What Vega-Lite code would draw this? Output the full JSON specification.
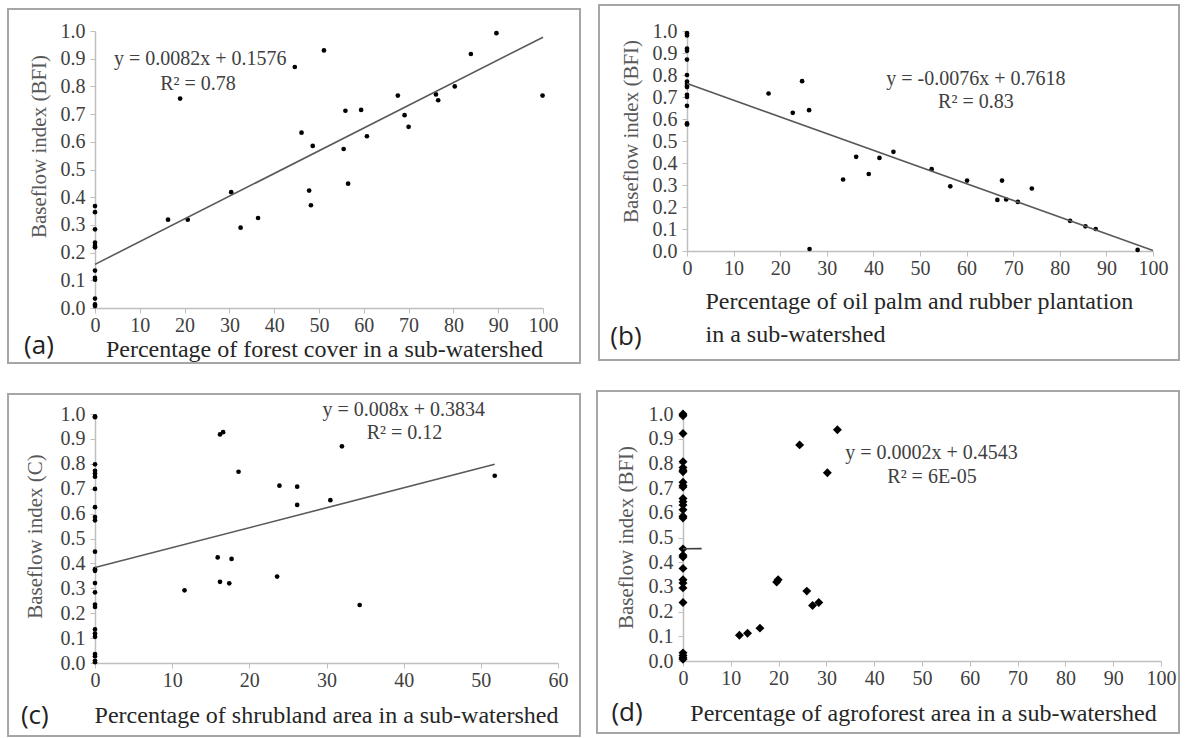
{
  "$schema": "https://vega.github.io/schema/vega-lite/v6.json",
  "background": "white",
  "padding": {"left": 6, "top": 4, "right": 0, "bottom": 0},
  "config": {
    "view": {"stroke": null},
    "font": "Liberation Serif",
    "style": {"guide-label": {"font": "Liberation Serif", "fontWeight": "normal"}, "guide-title": {"font": "Liberation Serif"}},
    "axis": {
      "labelFont": "Liberation Serif", "labelFontSize": 20, "labelColor": "#404040", "labelFontWeight": "normal",
      "labelOverlap": false, "labelFlush": false, "labelBound": false,
      "titleFont": "Liberation Serif", "titleFontWeight": "normal", "titleColor": "#262626",
      "domainColor": "#bfbfbf", "domainWidth": 1.5, "tickColor": "#bfbfbf", "tickSize": 5, "grid": false
    },
    "axisX": {"labelFont": "Liberation Serif"},
    "axisY": {"labelFont": "Liberation Serif"}
  },
  "datasets": {
    "one": [{}],
    "a": [
      {"pct": 0, "bfi": 0.368}, {"pct": 0, "bfi": 0.346}, {"pct": 0, "bfi": 0.284}, {"pct": 0, "bfi": 0.236},
      {"pct": 0, "bfi": 0.224}, {"pct": 0, "bfi": 0.219}, {"pct": 0, "bfi": 0.135}, {"pct": 0, "bfi": 0.109},
      {"pct": 0, "bfi": 0.102}, {"pct": 0, "bfi": 0.034}, {"pct": 0, "bfi": 0.013}, {"pct": 0, "bfi": 0.007},
      {"pct": 16.3, "bfi": 0.319}, {"pct": 19.0, "bfi": 0.756}, {"pct": 20.7, "bfi": 0.319}, {"pct": 30.4, "bfi": 0.418},
      {"pct": 32.5, "bfi": 0.29}, {"pct": 36.4, "bfi": 0.325}, {"pct": 44.6, "bfi": 0.87}, {"pct": 46.1, "bfi": 0.633},
      {"pct": 48.6, "bfi": 0.585}, {"pct": 47.8, "bfi": 0.424}, {"pct": 48.2, "bfi": 0.371}, {"pct": 51.1, "bfi": 0.93},
      {"pct": 55.5, "bfi": 0.574}, {"pct": 55.9, "bfi": 0.712}, {"pct": 56.5, "bfi": 0.449}, {"pct": 59.4, "bfi": 0.715},
      {"pct": 60.7, "bfi": 0.62}, {"pct": 67.6, "bfi": 0.767}, {"pct": 69.1, "bfi": 0.696}, {"pct": 70.0, "bfi": 0.654},
      {"pct": 76.1, "bfi": 0.771}, {"pct": 76.6, "bfi": 0.75}, {"pct": 80.3, "bfi": 0.8}, {"pct": 83.9, "bfi": 0.917},
      {"pct": 89.6, "bfi": 0.992}, {"pct": 99.9, "bfi": 0.767}
    ],
    "b": [
      {"pct": 0, "bfi": 0.99}, {"pct": 0, "bfi": 0.98}, {"pct": 0, "bfi": 0.92}, {"pct": 0, "bfi": 0.91},
      {"pct": 0, "bfi": 0.87}, {"pct": 0, "bfi": 0.8}, {"pct": 0, "bfi": 0.77}, {"pct": 0, "bfi": 0.76},
      {"pct": 0, "bfi": 0.75}, {"pct": 0, "bfi": 0.745}, {"pct": 0, "bfi": 0.71}, {"pct": 0, "bfi": 0.7},
      {"pct": 0, "bfi": 0.66}, {"pct": 0, "bfi": 0.58}, {"pct": 0, "bfi": 0.575},
      {"pct": 17.5, "bfi": 0.716}, {"pct": 22.7, "bfi": 0.628}, {"pct": 24.7, "bfi": 0.772}, {"pct": 26.2, "bfi": 0.64},
      {"pct": 26.3, "bfi": 0.009}, {"pct": 33.5, "bfi": 0.325}, {"pct": 36.3, "bfi": 0.428}, {"pct": 39.0, "bfi": 0.35},
      {"pct": 41.3, "bfi": 0.423}, {"pct": 44.3, "bfi": 0.451}, {"pct": 52.5, "bfi": 0.372}, {"pct": 56.5, "bfi": 0.294},
      {"pct": 60.1, "bfi": 0.32}, {"pct": 66.6, "bfi": 0.232}, {"pct": 67.6, "bfi": 0.32}, {"pct": 68.5, "bfi": 0.234},
      {"pct": 71.0, "bfi": 0.223}, {"pct": 74.0, "bfi": 0.284}, {"pct": 82.2, "bfi": 0.137}, {"pct": 85.5, "bfi": 0.112},
      {"pct": 87.7, "bfi": 0.1}, {"pct": 96.7, "bfi": 0.005}
    ],
    "c": [
      {"pct": 0, "bfi": 0.991}, {"pct": 0, "bfi": 0.987}, {"pct": 0, "bfi": 0.798}, {"pct": 0, "bfi": 0.772},
      {"pct": 0, "bfi": 0.761}, {"pct": 0, "bfi": 0.748}, {"pct": 0, "bfi": 0.699}, {"pct": 0, "bfi": 0.626},
      {"pct": 0, "bfi": 0.586}, {"pct": 0, "bfi": 0.573}, {"pct": 0, "bfi": 0.447}, {"pct": 0, "bfi": 0.377},
      {"pct": 0, "bfi": 0.37}, {"pct": 0, "bfi": 0.321}, {"pct": 0, "bfi": 0.284}, {"pct": 0, "bfi": 0.235},
      {"pct": 0, "bfi": 0.225}, {"pct": 0, "bfi": 0.135}, {"pct": 0, "bfi": 0.118}, {"pct": 0, "bfi": 0.105},
      {"pct": 0, "bfi": 0.036}, {"pct": 0, "bfi": 0.027}, {"pct": 0, "bfi": 0.009}, {"pct": 0, "bfi": 0.003},
      {"pct": 11.6, "bfi": 0.292}, {"pct": 15.9, "bfi": 0.424}, {"pct": 16.2, "bfi": 0.326}, {"pct": 16.2, "bfi": 0.918},
      {"pct": 16.6, "bfi": 0.927}, {"pct": 17.4, "bfi": 0.32}, {"pct": 17.7, "bfi": 0.418}, {"pct": 18.6, "bfi": 0.768},
      {"pct": 23.6, "bfi": 0.347}, {"pct": 23.9, "bfi": 0.712}, {"pct": 26.2, "bfi": 0.708}, {"pct": 26.2, "bfi": 0.635},
      {"pct": 30.5, "bfi": 0.654}, {"pct": 32.0, "bfi": 0.87}, {"pct": 34.3, "bfi": 0.233}, {"pct": 51.8, "bfi": 0.752}
    ],
    "d": [
      {"pct": 0, "bfi": 1.0}, {"pct": 0, "bfi": 0.993}, {"pct": 0, "bfi": 0.921}, {"pct": 0, "bfi": 0.807},
      {"pct": 0, "bfi": 0.783}, {"pct": 0, "bfi": 0.772}, {"pct": 0, "bfi": 0.766}, {"pct": 0, "bfi": 0.724},
      {"pct": 0, "bfi": 0.711}, {"pct": 0, "bfi": 0.704}, {"pct": 0, "bfi": 0.658}, {"pct": 0, "bfi": 0.645},
      {"pct": 0, "bfi": 0.632}, {"pct": 0, "bfi": 0.612}, {"pct": 0, "bfi": 0.586}, {"pct": 0, "bfi": 0.579},
      {"pct": 0, "bfi": 0.454}, {"pct": 0, "bfi": 0.428}, {"pct": 0, "bfi": 0.421}, {"pct": 0, "bfi": 0.375},
      {"pct": 0, "bfi": 0.329}, {"pct": 0, "bfi": 0.316}, {"pct": 0, "bfi": 0.296}, {"pct": 0, "bfi": 0.237},
      {"pct": 0, "bfi": 0.033}, {"pct": 0, "bfi": 0.022}, {"pct": 0, "bfi": 0.013}, {"pct": 0, "bfi": 0.007},
      {"pct": 11.8, "bfi": 0.104}, {"pct": 13.5, "bfi": 0.112}, {"pct": 16.1, "bfi": 0.133}, {"pct": 19.6, "bfi": 0.32},
      {"pct": 19.9, "bfi": 0.329}, {"pct": 24.4, "bfi": 0.875}, {"pct": 25.9, "bfi": 0.283}, {"pct": 27.1, "bfi": 0.225},
      {"pct": 28.4, "bfi": 0.237}, {"pct": 30.2, "bfi": 0.762}, {"pct": 32.3, "bfi": 0.936}
    ]
  },
  "spacing": 25,
  "vconcat": [
    {
      "spacing": 16,
      "hconcat": [
        {
          "width": 448, "height": 277,
          "resolve": {"axis": {"x": "independent", "y": "independent"}},
          "layer": [
            {
              "data": {"name": "a"},
              "mark": {"type": "circle", "color": "black", "size": 22, "opacity": 1},
              "encoding": {
                "x": {"field": "pct", "type": "quantitative", "scale": {"domain": [0, 100], "nice": false},
                  "axis": {"values": [0,10,20,30,40,50,60,70,80,90,100], "title": "Percentage of forest cover in a sub-watershed",
                    "labelFont": "Liberation Serif", "titleFont": "Liberation Serif", "labelOverlap": false, "labelFlush": false,
                    "titleFontSize": 24, "titleX": 229, "titleY": 41, "titleBaseline": "middle", "titleAlign": "center", "labelPadding": 2}},
                "y": {"field": "bfi", "type": "quantitative", "scale": {"domain": [0, 1], "nice": false},
                  "axis": {"values": [0,0.1,0.2,0.3,0.4,0.5,0.6,0.7,0.8,0.9,1.0], "format": ".1f", "title": "Baseflow index (BFI)",
                    "labelFont": "Liberation Serif", "titleFont": "Liberation Serif", "labelOverlap": false,
                    "titleFontSize": 21, "titleColor": "#595959", "titleX": -56, "titleY": 115, "titleBaseline": "middle", "titleAngle": -90, "titleAlign": "center", "labelPadding": 5}}
              }
            },
            {
              "data": {"name": "one"},
              "mark": {"type": "rect", "fill": null, "stroke": "#a6a6a6", "strokeWidth": 2},
              "encoding": {
                "x": {"datum": -19.42, "type": "quantitative", "axis": null},
                "x2": {"datum": 108.26},
                "y": {"datum": 1.0794, "type": "quantitative", "axis": null},
                "y2": {"datum": -0.1986}
              }
            },
            {
              "data": {"name": "one"},
              "mark": {"type": "rule", "color": "#595959", "strokeWidth": 1.6},
              "encoding": {
                "x": {"datum": 0, "type": "quantitative", "axis": null}, "x2": {"datum": 100},
                "y": {"datum": 0.1576, "type": "quantitative", "axis": null}, "y2": {"datum": 0.9776}
              }
            },
            {
              "data": {"name": "one"},
              "mark": {"type": "text", "text": "y = 0.0082x + 0.1576", "font": "Liberation Serif", "fontSize": 20, "color": "#404040", "align": "center", "baseline": "middle"},
              "encoding": {"x": {"datum": 23.5, "type": "quantitative", "axis": null}, "y": {"datum": 0.9, "type": "quantitative", "axis": null}}
            },
            {
              "data": {"name": "one"},
              "mark": {"type": "text", "text": "R² = 0.78", "font": "Liberation Serif", "fontSize": 20, "color": "#404040", "align": "center", "baseline": "middle"},
              "encoding": {"x": {"datum": 23, "type": "quantitative", "axis": null}, "y": {"datum": 0.81, "type": "quantitative", "axis": null}}
            },
            {
              "data": {"name": "one"},
              "mark": {"type": "text", "text": "(a)", "font": "Open Sans", "fontSize": 26, "color": "#222222", "align": "center", "baseline": "middle"},
              "encoding": {"x": {"datum": -12.5, "type": "quantitative", "axis": null}, "y": {"datum": -0.137, "type": "quantitative", "axis": null}}
            }
          ]
        },
        {
          "width": 466, "height": 220,
          "resolve": {"axis": {"x": "independent", "y": "independent"}},
          "layer": [
            {
              "data": {"name": "b"},
              "mark": {"type": "circle", "color": "black", "size": 22, "opacity": 1},
              "encoding": {
                "x": {"field": "pct", "type": "quantitative", "scale": {"domain": [0, 100], "nice": false},
                  "axis": {"values": [0,10,20,30,40,50,60,70,80,90,100], "title": ["Percentage of oil palm and rubber plantation", "in a sub-watershed"],
                    "labelFont": "Liberation Serif", "titleFont": "Liberation Serif", "labelOverlap": false, "labelFlush": false,
                    "titleFontSize": 24, "titleX": 18, "titleY": 50, "titleBaseline": "middle", "titleAlign": "left", "titleLineHeight": 33, "labelPadding": 2}},
                "y": {"field": "bfi", "type": "quantitative", "scale": {"domain": [0, 1], "nice": false},
                  "axis": {"values": [0,0.1,0.2,0.3,0.4,0.5,0.6,0.7,0.8,0.9,1.0], "format": ".1f", "title": "Baseflow index (BFI)",
                    "labelFont": "Liberation Serif", "titleFont": "Liberation Serif", "labelOverlap": false,
                    "titleFontSize": 21, "titleColor": "#595959", "titleX": -56, "titleY": 100, "titleBaseline": "middle", "titleAngle": -90, "titleAlign": "center", "labelPadding": 5}}
              }
            },
            {
              "data": {"name": "one"},
              "mark": {"type": "rect", "fill": null, "stroke": "#a6a6a6", "strokeWidth": 2},
              "encoding": {
                "x": {"datum": -18.88, "type": "quantitative", "axis": null},
                "x2": {"datum": 105.58},
                "y": {"datum": 1.118, "type": "quantitative", "axis": null},
                "y2": {"datum": -0.495}
              }
            },
            {
              "data": {"name": "one"},
              "mark": {"type": "rule", "color": "#595959", "strokeWidth": 1.6},
              "encoding": {
                "x": {"datum": 0, "type": "quantitative", "axis": null}, "x2": {"datum": 100},
                "y": {"datum": 0.7618, "type": "quantitative", "axis": null}, "y2": {"datum": 0.0018}
              }
            },
            {
              "data": {"name": "one"},
              "mark": {"type": "text", "text": "y = -0.0076x + 0.7618", "font": "Liberation Serif", "fontSize": 20, "color": "#404040", "align": "center", "baseline": "middle"},
              "encoding": {"x": {"datum": 62, "type": "quantitative", "axis": null}, "y": {"datum": 0.781, "type": "quantitative", "axis": null}}
            },
            {
              "data": {"name": "one"},
              "mark": {"type": "text", "text": "R² = 0.83", "font": "Liberation Serif", "fontSize": 20, "color": "#404040", "align": "center", "baseline": "middle"},
              "encoding": {"x": {"datum": 62, "type": "quantitative", "axis": null}, "y": {"datum": 0.678, "type": "quantitative", "axis": null}}
            },
            {
              "data": {"name": "one"},
              "mark": {"type": "text", "text": "(b)", "font": "Open Sans", "fontSize": 26, "color": "#222222", "align": "center", "baseline": "middle"},
              "encoding": {"x": {"datum": -13.1, "type": "quantitative", "axis": null}, "y": {"datum": -0.39, "type": "quantitative", "axis": null}}
            }
          ]
        }
      ]
    },
    {
      "spacing": 15,
      "hconcat": [
        {
          "width": 463, "height": 249,
          "resolve": {"axis": {"x": "independent", "y": "independent"}},
          "layer": [
            {
              "data": {"name": "c"},
              "mark": {"type": "circle", "color": "black", "size": 22, "opacity": 1},
              "encoding": {
                "x": {"field": "pct", "type": "quantitative", "scale": {"domain": [0, 60], "nice": false},
                  "axis": {"values": [0,10,20,30,40,50,60], "title": "Percentage of shrubland area in a sub-watershed",
                    "labelFont": "Liberation Serif", "titleFont": "Liberation Serif", "labelOverlap": false, "labelFlush": false,
                    "titleFontSize": 24, "titleX": 231, "titleY": 52, "titleBaseline": "middle", "titleAlign": "center", "labelPadding": 2}},
                "y": {"field": "bfi", "type": "quantitative", "scale": {"domain": [0, 1], "nice": false},
                  "axis": {"values": [0,0.1,0.2,0.3,0.4,0.5,0.6,0.7,0.8,0.9,1.0], "format": ".1f", "title": "Baseflow index (C)",
                    "labelFont": "Liberation Serif", "titleFont": "Liberation Serif", "labelOverlap": false,
                    "titleFontSize": 21, "titleColor": "#595959", "titleX": -60, "titleY": 122, "titleBaseline": "middle", "titleAngle": -90, "titleAlign": "center", "labelPadding": 5}}
              }
            },
            {
              "data": {"name": "one"},
              "mark": {"type": "rect", "fill": null, "stroke": "#a6a6a6", "strokeWidth": 2},
              "encoding": {
                "x": {"datum": -11.27, "type": "quantitative", "axis": null},
                "x2": {"datum": 62.85},
                "y": {"datum": 1.08, "type": "quantitative", "axis": null},
                "y2": {"datum": -0.293}
              }
            },
            {
              "data": {"name": "one"},
              "mark": {"type": "rule", "color": "#595959", "strokeWidth": 1.6},
              "encoding": {
                "x": {"datum": 0, "type": "quantitative", "axis": null}, "x2": {"datum": 51.8},
                "y": {"datum": 0.3834, "type": "quantitative", "axis": null}, "y2": {"datum": 0.7978}
              }
            },
            {
              "data": {"name": "one"},
              "mark": {"type": "text", "text": "y = 0.008x + 0.3834", "font": "Liberation Serif", "fontSize": 20, "color": "#404040", "align": "center", "baseline": "middle"},
              "encoding": {"x": {"datum": 40, "type": "quantitative", "axis": null}, "y": {"datum": 1.015, "type": "quantitative", "axis": null}}
            },
            {
              "data": {"name": "one"},
              "mark": {"type": "text", "text": "R² = 0.12", "font": "Liberation Serif", "fontSize": 20, "color": "#404040", "align": "center", "baseline": "middle"},
              "encoding": {"x": {"datum": 40.1, "type": "quantitative", "axis": null}, "y": {"datum": 0.924, "type": "quantitative", "axis": null}}
            },
            {
              "data": {"name": "one"},
              "mark": {"type": "text", "text": "(c)", "font": "Open Sans", "fontSize": 26, "color": "#222222", "align": "center", "baseline": "middle"},
              "encoding": {"x": {"datum": -7.8, "type": "quantitative", "axis": null}, "y": {"datum": -0.213, "type": "quantitative", "axis": null}}
            }
          ]
        },
        {
          "width": 478, "height": 247,
          "resolve": {"axis": {"x": "independent", "y": "independent"}},
          "layer": [
            {
              "data": {"name": "d"},
              "mark": {"type": "point", "shape": "diamond", "filled": true, "color": "black", "size": 80, "opacity": 1},
              "encoding": {
                "x": {"field": "pct", "type": "quantitative", "scale": {"domain": [0, 100], "nice": false},
                  "axis": {"values": [0,10,20,30,40,50,60,70,80,90,100], "title": "Percentage of agroforest area in a sub-watershed",
                    "labelFont": "Liberation Serif", "titleFont": "Liberation Serif", "labelOverlap": false, "labelFlush": false,
                    "titleFontSize": 24, "titleX": 240, "titleY": 52, "titleBaseline": "middle", "titleAlign": "center", "labelPadding": 2}},
                "y": {"field": "bfi", "type": "quantitative", "scale": {"domain": [0, 1], "nice": false},
                  "axis": {"values": [0,0.1,0.2,0.3,0.4,0.5,0.6,0.7,0.8,0.9,1.0], "format": ".1f", "title": "Baseflow index (BFI)",
                    "labelFont": "Liberation Serif", "titleFont": "Liberation Serif", "labelOverlap": false,
                    "titleFontSize": 21, "titleColor": "#595959", "titleX": -57, "titleY": 123, "titleBaseline": "middle", "titleAngle": -90, "titleAlign": "center", "labelPadding": 5}}
              }
            },
            {
              "data": {"name": "one"},
              "mark": {"type": "rect", "fill": null, "stroke": "#a6a6a6", "strokeWidth": 2},
              "encoding": {
                "x": {"datum": -17.99, "type": "quantitative", "axis": null},
                "x2": {"datum": 103.77},
                "y": {"datum": 1.093, "type": "quantitative", "axis": null},
                "y2": {"datum": -0.2915}
              }
            },
            {
              "data": {"name": "one"},
              "mark": {"type": "rule", "color": "#404040", "strokeWidth": 1.6},
              "encoding": {
                "x": {"datum": 0, "type": "quantitative", "axis": null}, "x2": {"datum": 3.9},
                "y": {"datum": 0.4543, "type": "quantitative", "axis": null}, "y2": {"datum": 0.4551}
              }
            },
            {
              "data": {"name": "one"},
              "mark": {"type": "text", "text": "y = 0.0002x + 0.4543", "font": "Liberation Serif", "fontSize": 20, "color": "#404040", "align": "center", "baseline": "middle"},
              "encoding": {"x": {"datum": 52, "type": "quantitative", "axis": null}, "y": {"datum": 0.842, "type": "quantitative", "axis": null}}
            },
            {
              "data": {"name": "one"},
              "mark": {"type": "text", "text": "R² = 6E-05", "font": "Liberation Serif", "fontSize": 20, "color": "#404040", "align": "center", "baseline": "middle"},
              "encoding": {"x": {"datum": 52.1, "type": "quantitative", "axis": null}, "y": {"datum": 0.746, "type": "quantitative", "axis": null}}
            },
            {
              "data": {"name": "one"},
              "mark": {"type": "text", "text": "(d)", "font": "Open Sans", "fontSize": 26, "color": "#222222", "align": "center", "baseline": "middle"},
              "encoding": {"x": {"datum": -11.7, "type": "quantitative", "axis": null}, "y": {"datum": -0.211, "type": "quantitative", "axis": null}}
            }
          ]
        }
      ]
    }
  ]
}
